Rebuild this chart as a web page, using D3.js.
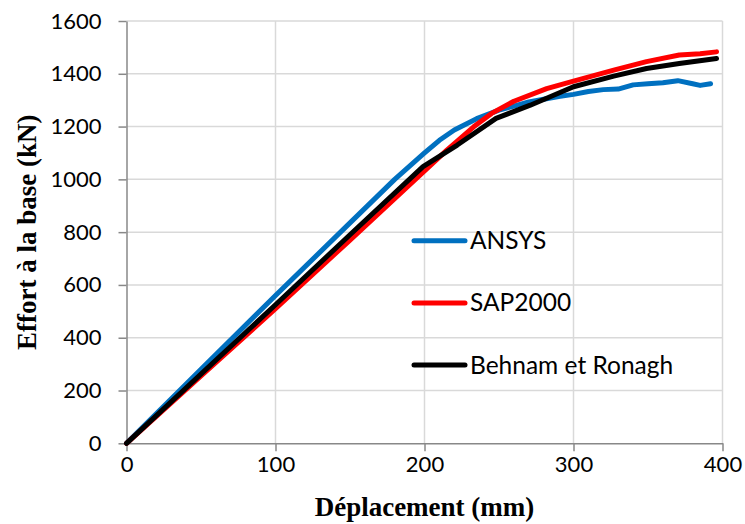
<!DOCTYPE html>
<html>
<head>
<meta charset="utf-8">
<script src="https://cdn.jsdelivr.net/npm/d3@7"></script>
<style>
  body { margin: 0; background: #fff; }
  .tick text { font-family: Lato, "Open Sans", sans-serif; font-size: 22px; fill: #000; }
  .axis-title { font-family: "Liberation Serif", "Times New Roman", serif; font-weight: bold; font-size: 27px; }
  .legend text { font-family: Lato, "Open Sans", sans-serif; font-size: 24.5px; }
</style>
</head>
<body>
<div id="chart"></div>
<script>
// ANSYS curve [displacement mm, force kN]
let ansys = [[0, 0], [50, 280], [100, 560], [150, 835], [180, 1000], [200, 1100], [210, 1148],
    [220, 1187], [235, 1230], [250, 1262], [270, 1293], [290, 1314], [300, 1322], [310, 1333],
    [320, 1340], [330, 1342], [340, 1358], [350, 1362], [360, 1366], [370, 1374], [380, 1362],
    [385, 1356], [392, 1362]];

// SAP2000 curve
let sap2000 = [[0, 0], [50, 255], [100, 510], [150, 770], [200, 1032], [215, 1111], [233, 1199],
    [245, 1250], [260, 1296], [282, 1344], [300, 1372], [327, 1414], [349, 1446], [371, 1471],
    [385, 1476], [396, 1483]];

// Behnam et Ronagh curve
let behnam = [[0, 0], [100, 525], [150, 790], [199, 1048], [222, 1130], [248, 1231], [271, 1281],
    [300, 1351], [327, 1391], [349, 1420], [371, 1439], [396, 1458]];

let seriesNames = ['ANSYS', 'SAP2000', 'Behnam et Ronagh'];
let seriesColors = ['#0070c0', '#ff0000', '#000000'];
let xTicks = [0, 100, 200, 300, 400];
let yTicks = [0, 200, 400, 600, 800, 1000, 1200, 1400, 1600];

let width = 745, height = 524;
let margin = { top: 21, right: 22.5, bottom: 80.7, left: 126.5 };

let x = d3.scaleLinear().domain([0, 400]).range([margin.left, width - margin.right]);
let y = d3.scaleLinear().domain([0, 1600]).range([height - margin.bottom, margin.top]);

let svg = d3.select('#chart')
    .append('svg')
    .attr('width', width)
    .attr('height', height);

// gridlines
svg.append('g')
    .selectAll('line.hgrid')
    .data(yTicks.slice(1))
    .enter()
    .append('line')
    .attr('x1', x(0)).attr('x2', x(400))
    .attr('y1', d => y(d)).attr('y2', d => y(d))
    .attr('stroke', '#d9d9d9').attr('stroke-width', 1.5);

svg.append('g')
    .selectAll('line.vgrid')
    .data(xTicks.slice(1))
    .enter()
    .append('line')
    .attr('y1', y(0)).attr('y2', y(1600))
    .attr('x1', d => x(d)).attr('x2', d => x(d))
    .attr('stroke', '#d9d9d9').attr('stroke-width', 1.5);

// axes
let xAxis = svg.append('g')
    .attr('transform', 'translate(0,' + y(0) + ')')
    .call(d3.axisBottom(x).tickValues(xTicks).tickFormat(d3.format('d'))
        .tickSize(8).tickSizeOuter(0).tickPadding(5));

let yAxis = svg.append('g')
    .attr('transform', 'translate(' + x(0) + ',0)')
    .call(d3.axisLeft(y).tickValues(yTicks).tickFormat(d3.format('d'))
        .tickSize(8).tickSizeOuter(0).tickPadding(17));

[xAxis, yAxis].forEach(function (a) {
    a.select('.domain').attr('stroke', '#888').attr('stroke-width', 1.5);
    a.selectAll('.tick line').attr('stroke', '#888').attr('stroke-width', 1.5);
    a.attr('font-family', null).attr('font-size', null);
});

// curves
let line = d3.line()
    .x(d => x(d[0]))
    .y(d => y(d[1]));

[ansys, sap2000, behnam].forEach(function (s, i) {
    svg.append('path')
        .datum(s)
        .attr('fill', 'none')
        .attr('stroke', seriesColors[i])
        .attr('stroke-width', 5)
        .attr('stroke-linejoin', 'round')
        .attr('stroke-linecap', 'round')
        .attr('d', line);
});

// legend
let legend = svg.append('g').attr('class', 'legend');
seriesNames.forEach(function (name, i) {
    let ly = 240.7 + i * 62.2;
    legend.append('line')
        .attr('x1', 414).attr('x2', 465)
        .attr('y1', ly).attr('y2', ly)
        .attr('stroke', seriesColors[i])
        .attr('stroke-width', 5)
        .attr('stroke-linecap', 'round');
    legend.append('text')
        .attr('x', 470).attr('y', ly)
        .attr('dy', '0.35em')
        .text(name);
});

// axis titles
svg.append('text')
    .attr('class', 'axis-title')
    .attr('x', (x(0) + x(400)) / 2)
    .attr('y', 516)
    .attr('text-anchor', 'middle')
    .text('Déplacement (mm)');

svg.append('text')
    .attr('class', 'axis-title')
    .attr('transform', 'translate(36,' + (y(0) + y(1600)) / 2 + ') rotate(-90)')
    .attr('text-anchor', 'middle')
    .text('Effort à la base (kN)');
</script>
</body>
</html>
